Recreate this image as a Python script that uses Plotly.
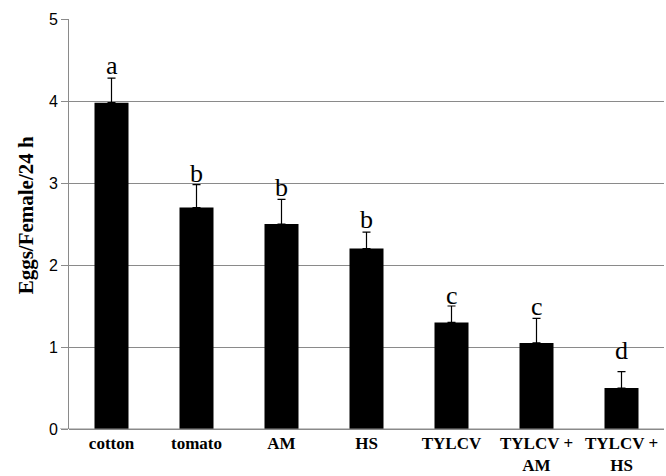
import plotly.graph_objects as go

categories = ["cotton", "tomato", "AM", "HS", "TYLCV", "TYLCV +<br>AM", "TYLCV +<br>HS"]
means = [3.98, 2.70, 2.50, 2.20, 1.30, 1.05, 0.50]
errors = [0.30, 0.28, 0.30, 0.20, 0.20, 0.30, 0.20]
letters = ["a", "b", "b", "b", "c", "c", "d"]
letter_y = [4.43, 3.12, 2.95, 2.55, 1.63, 1.50, 0.96]
y_ticks = [0, 1, 2, 3, 4, 5]

fig = go.Figure()
fig.add_trace(go.Bar(
    x=categories, y=means,
    marker=dict(color="black", line=dict(width=0)),
    width=0.4,
    error_y=dict(type="data", symmetric=False, array=errors,
                 arrayminus=[0] * len(errors), color="black",
                 thickness=1.2, width=4),
))

for c, t, yy in zip(categories, letters, letter_y):
    fig.add_annotation(x=c, y=yy, text=t, showarrow=False,
                       font=dict(family="Liberation Serif", size=26, color="black"),
                       yanchor="middle")

fig.add_annotation(xref="paper", yref="paper", x=-0.073, y=0.52,
                   text="<b>Eggs/Female/24 h</b>", textangle=-90, showarrow=False,
                   xanchor="center", yanchor="middle",
                   font=dict(family="Liberation Serif", size=21, color="black"))

fig.update_layout(
    width=666, height=476,
    margin=dict(l=69, r=2, t=19, b=47),
    paper_bgcolor="white", plot_bgcolor="white",
    showlegend=False,
    bargap=0.6,
)
fig.update_xaxes(
    showline=False, showgrid=False, ticks="", automargin=False,
    ticklabelstandoff=2,
    tickfont=dict(family="Liberation Serif", size=17, color="black", weight="bold"),
)
fig.update_yaxes(
    range=[0, 5], tickvals=y_ticks, automargin=False,
    showgrid=True, gridcolor="#8a8a8a", gridwidth=1,
    showline=True, linecolor="#8a8a8a", linewidth=1,
    ticks="outside", ticklen=7, tickcolor="#8a8a8a",
    tickfont=dict(family="Liberation Sans", size=16, color="black"),
    zeroline=True, zerolinecolor="#8a8a8a", zerolinewidth=1,
)
fig.add_shape(type="line", xref="paper", yref="y", x0=-0.015, x1=1, y0=0, y1=0,
              line=dict(color="#8a8a8a", width=1))

fig.write_html("out.html")
